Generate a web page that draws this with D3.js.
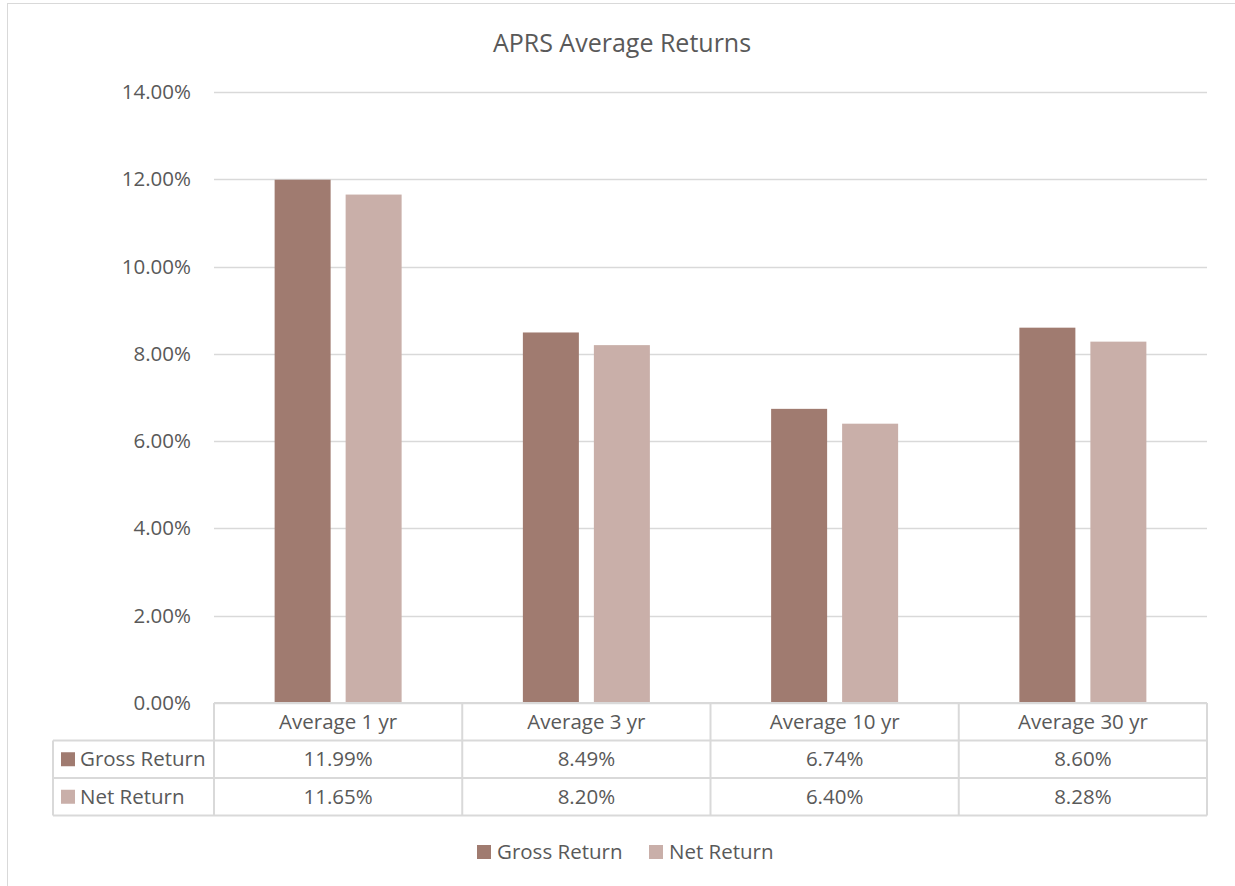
<!DOCTYPE html>
<html>
<head>
<meta charset="utf-8">
<script src="https://cdn.jsdelivr.net/npm/d3@7"></script>
<style>
  body { margin: 0; background: #fff; }
  svg text { font-family: "Open Sans", sans-serif; fill: #595959; }
</style>
</head>
<body>
<div id="chart"></div>
<script>
// data
const categories = ["Average 1 yr", "Average 3 yr", "Average 10 yr", "Average 30 yr"];
const seriesNames = ["Gross Return", "Net Return"];
const grossReturn = [11.99, 8.49, 6.74, 8.60];
const netReturn = [11.65, 8.20, 6.40, 8.28];
const yTicks = [0, 2, 4, 6, 8, 10, 12, 14];
const colors = ["#a07b70", "#c9afa9"];

const W = 1235, H = 886;
const plot = {left: 214, right: 1207, top: 92, bottom: 703};
const rowH = 37.5;
const tableLeft = 53;
const fs = "20.5px";

const svg = d3.select("#chart").append("svg")
    .attr("width", W)
    .attr("height", H);

// outer chart border
svg.append("rect")
    .attr("x", 7.5).attr("y", 3.5)
    .attr("width", W).attr("height", H)
    .attr("fill", "none")
    .attr("stroke", "#d9d9d9");

svg.append("text")
    .attr("x", 622).attr("y", 52)
    .attr("text-anchor", "middle")
    .style("font-size", "25px")
    .text("APRS Average Returns");

const x = d3.scaleBand()
    .domain(categories)
    .range([plot.left, plot.right]);

const y = d3.scaleLinear()
    .domain([0, 14])
    .range([plot.bottom, plot.top]);

// gridlines
svg.append("g").selectAll("line")
    .data(yTicks)
    .enter().append("line")
    .attr("x1", plot.left).attr("x2", plot.right)
    .attr("y1", d => Math.round(y(d)) + 0.5)
    .attr("y2", d => Math.round(y(d)) + 0.5)
    .attr("stroke", "#d9d9d9")
    .attr("stroke-width", 1.5);

// y labels
svg.append("g").selectAll("text")
    .data(yTicks)
    .enter().append("text")
    .attr("x", 191)
    .attr("y", d => y(d) + 7)
    .attr("text-anchor", "end")
    .style("font-size", fs)
    .text(d => d.toFixed(2) + "%");

// bars
const barW = 56, gap = 15;
const series = [grossReturn, netReturn];
series.forEach(function(vals, si) {
    svg.append("g").selectAll("rect")
        .data(vals)
        .enter().append("rect")
        .attr("x", (d, i) => x(categories[i]) + x.bandwidth() / 2 - barW - gap / 2 + si * (barW + gap))
        .attr("width", barW)
        .attr("y", d => y(d))
        .attr("height", d => y(0) - y(d))
        .attr("fill", colors[si]);
});

// data table
const tg = svg.append("g");
const lineStyle = sel => sel.attr("stroke", "#d9d9d9").attr("stroke-width", 2).attr("fill", "none");

tg.append("line").attr("x1", plot.left).attr("x2", plot.right)
    .attr("y1", plot.bottom).attr("y2", plot.bottom).call(lineStyle);
[1, 2, 3].forEach(function(r) {
    tg.append("line").attr("x1", tableLeft).attr("x2", plot.right)
        .attr("y1", plot.bottom + r * rowH).attr("y2", plot.bottom + r * rowH).call(lineStyle);
});
tg.append("line").attr("x1", tableLeft).attr("x2", tableLeft)
    .attr("y1", plot.bottom + rowH).attr("y2", plot.bottom + 3 * rowH).call(lineStyle);
x.domain().concat(["end"]).forEach(function(c) {
    const xx = c === "end" ? plot.right : x(c);
    tg.append("line").attr("x1", xx).attr("x2", xx)
        .attr("y1", plot.bottom).attr("y2", plot.bottom + 3 * rowH).call(lineStyle);
});

// category header
tg.selectAll("text.cat")
    .data(categories)
    .enter().append("text")
    .attr("class", "cat")
    .attr("x", d => x(d) + x.bandwidth() / 2)
    .attr("y", plot.bottom + rowH / 2 + 7)
    .attr("text-anchor", "middle")
    .style("font-size", fs)
    .text(d => d);

// value rows
series.forEach(function(vals, si) {
    const ry = plot.bottom + (si + 1) * rowH;
    tg.append("rect")
        .attr("x", 61).attr("y", ry + rowH / 2 - 7)
        .attr("width", 14).attr("height", 14)
        .attr("fill", colors[si]);
    tg.append("text")
        .attr("x", 80).attr("y", ry + rowH / 2 + 7)
        .style("font-size", fs)
        .text(seriesNames[si]);
    tg.selectAll("text.v" + si)
        .data(vals)
        .enter().append("text")
        .attr("class", "v" + si)
        .attr("x", (d, i) => x(categories[i]) + x.bandwidth() / 2)
        .attr("y", ry + rowH / 2 + 7)
        .attr("text-anchor", "middle")
        .style("font-size", fs)
        .text(d => d.toFixed(2) + "%");
});

// legend
const legendX = [477, 649];
seriesNames.forEach(function(name, si) {
    svg.append("rect")
        .attr("x", legendX[si]).attr("y", 845)
        .attr("width", 14).attr("height", 14)
        .attr("fill", colors[si]);
    svg.append("text")
        .attr("x", legendX[si] + 20).attr("y", 859)
        .style("font-size", fs)
        .text(name);
});
</script>
</body>
</html>
